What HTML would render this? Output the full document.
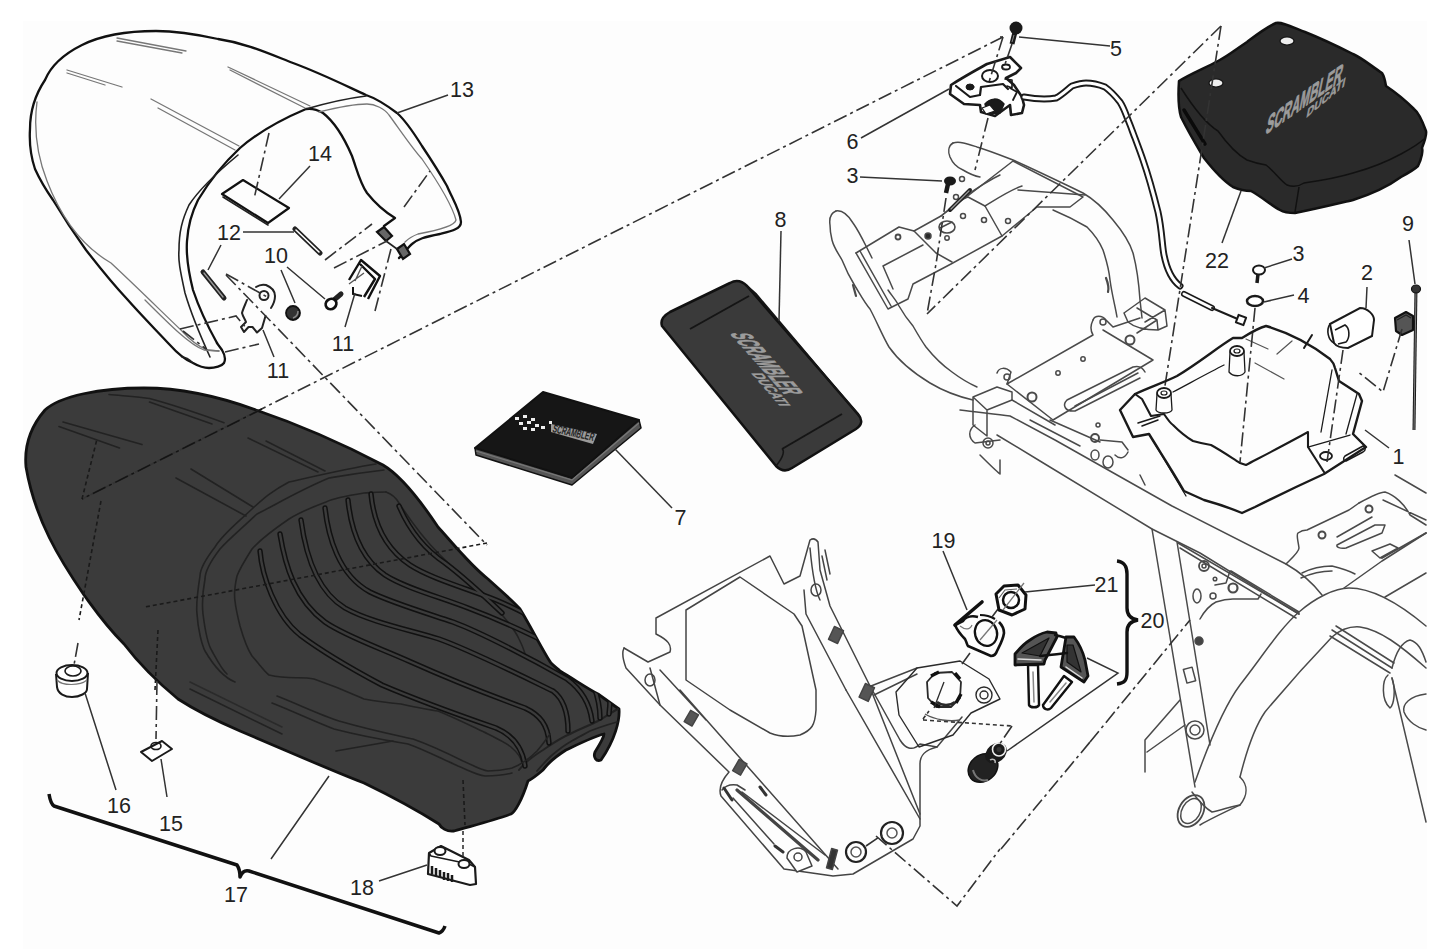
<!DOCTYPE html>
<html><head><meta charset="utf-8">
<style>
html,body{margin:0;padding:0;background:#fff;width:1452px;height:949px;overflow:hidden}
svg{display:block}
.k{fill:none;stroke:#111;stroke-width:2.3;stroke-linecap:round;stroke-linejoin:round}
.t{fill:none;stroke:#222;stroke-width:1.6;stroke-linecap:round;stroke-linejoin:round}
.g{fill:none;stroke:#777;stroke-width:1.3;stroke-linecap:round}
.dd{fill:none;stroke:#333;stroke-width:1.6;stroke-dasharray:14 4 3 4}
.dt{fill:none;stroke:#333;stroke-width:1.6;stroke-dasharray:4 3}
.ld{fill:none;stroke:#333;stroke-width:1.5}
text{font-family:"Liberation Sans",sans-serif;font-size:21.5px;fill:#222}
</style></head><body>
<svg width="1452" height="949" viewBox="0 0 1452 949">
<rect x="0" y="0" width="1452" height="949" fill="#fff"/>
<rect x="23" y="21" width="1404" height="928" fill="#fdfdfd"/>

<!-- ============ SEAT COVER 13 ============ -->
<g id="cover">
<path class="k" d="M399,258 C404,254 408,247 412,244 C418,239 424,237 440,234 C452,231 461,229 461,222 C460,210 452,198 447,186 C438,170 430,158 422,146 C412,130 405,120 397,113 C385,104 375,98 366,95 C340,83 320,73 293,63 C265,52 245,43 218,39 C195,34 178,31 156,31 C125,31 100,36 82,45 C60,56 50,68 45,80 C35,95 30,112 30,129 C29,145 31,157 35,169 C40,180 46,190 53,200 C62,215 73,232 86,250 C100,268 112,283 127,299 C142,316 156,330 169,344 C178,354 185,360 193,363 C200,367 205,368 209,368 C215,368 222,366 224,363 C226,359 225,355 222,350 C220,347 218,345 217,343"/>
<path class="g" d="M37,102 C34,125 35,150 47,181 C60,215 80,245 111,263 C140,290 165,315 182,331 C190,340 200,347 207,350 L219,351"/>
<path class="k" d="M217,343 C207,325 198,305 193,290 C188,270 186,255 187,241 C188,225 192,212 198,200 C210,180 225,162 240,148 C255,135 280,120 306,109 C313,108 318,110 323,113 C332,120 343,135 352,156 C357,170 360,183 367,193 C375,203 385,212 395,218 L384,226"/>
<path class="t" d="M210,357 C200,335 190,310 185,293 C180,270 178,260 179,250 C179,232 182,220 189,205 C200,188 220,170 238,155"/>
<path class="t" d="M306,109 C330,102 350,98 366,96"/>
<path class="g" d="M319,112 C335,108 355,104 367,104 C375,104 385,109 389,115 C400,130 412,148 422,159 C440,185 452,205 456,220 C455,225 440,230 418,234 C410,237 407,240 405,242"/>
<path class="g" d="M117,38 L186,51 M117,41 L182,53"/>
<path class="g" d="M67,70 L122,87 M67,73 L105,85"/>
<path class="g" d="M228,67 L310,106 M230,70 L305,108"/>
<path class="g" d="M151,99 L239,146 M158,108 L235,150"/>
<path class="t" d="M193,363 C190,360 185,357 182,357"/>
<path class="g" d="M145,300 C170,325 190,345 204,350 L219,351"/>
<!-- 14 label plate -->
<path class="k" style="stroke-width:2.2" d="M222,194 L243,180 L289,208 L268,223 Z"/>
<path class="t" d="M223,197 L268,225"/>
<path class="dd" d="M269,133 L254,199"/>
<path class="ld" d="M279,199 L310,166"/>
<path class="dd" d="M404,207 L430,171"/>
<!-- hinge blocks -->
<path d="M377,232 L384,227 L392,236 L386,241 Z" fill="#666" stroke="#111" stroke-width="2.2"/>
<path d="M397,249 L404,244 L410,254 L403,259 Z" fill="#666" stroke="#111" stroke-width="2.2"/>
<path class="t" d="M386,241 L397,249"/>
<!-- pins 12 -->
<path d="M295,229 L320,253" stroke="#222" stroke-width="5" stroke-linecap="round"/><path d="M296,230 L319,252" stroke="#fff" stroke-width="1.6" stroke-linecap="round"/>
<path d="M203,272 L224,298" stroke="#222" stroke-width="5" stroke-linecap="round"/><path d="M204,273 L223,297" stroke="#999" stroke-width="1.4" stroke-linecap="round"/>
<path class="ld" d="M243,232 L294,232 M221,245 L208,270"/>
<!-- 10 nut & screw -->
<circle cx="293" cy="313" r="7" fill="#333" stroke="#111" stroke-width="1.8"/><path d="M293,318 C296,317 298,314 298,311" stroke="#888" stroke-width="1.5" fill="none"/>
<path d="M334,300 L341,294" stroke="#222" stroke-width="5" stroke-linecap="round"/><ellipse cx="331" cy="304" rx="5.5" ry="5" fill="#fff" stroke="#111" stroke-width="2.8" transform="rotate(-40 331 304)"/>
<path class="ld" d="M281,270 L295,303 M287,267 L325,299"/>
<!-- bracket 11 left -->
<path class="t" style="stroke-width:2" d="M256,287 C259,285 262,284 266,285 C271,287 275,291 275,296 C275,301 273,305 271,308"/>
<circle cx="264" cy="295.5" r="4.5" class="t" style="stroke-width:2"/>
<path class="t" style="stroke-width:2" d="M247,300 C245,305 243,309 242,313 C243,317 245,319 246,322 L241,327 L244,332 L248.5,327 L252.5,327 L257,332.5 L262,328 L265.5,316"/>
<!-- bracket 11 right -->
<path fill="none" stroke="#111" stroke-width="2.4" stroke-linejoin="round" d="M349,280 L361,260 L380,276 L368,299 M360,264 L375,279 L364,297"/>
<path fill="none" stroke="#555" stroke-width="1.4" d="M349,284 L364,273 M362,266 L355,281"/>
<path fill="none" stroke="#111" stroke-width="2" d="M353,287 L353,294 L362,296"/>
<path class="ld" d="M345,327 L355,293 M274,357 L263,330"/>
<!-- dash lines near brackets -->
<path class="dd" d="M325,260 L372,224 M334,268 L387,241 M375,311 L392,245 M180,329 L236,316 L247,329 M183,331 L206,349 M225,352 L259,344 M226,274 L269,298"/>
</g>

<!-- labels -->

<!-- ============ SEAT 17 ============ -->
<defs><clipPath id="seatclip"><path d="M26,467 C24,445 32,425 45,410 C60,396 100,388 144,388 C180,388 215,395 256,410 C300,425 345,445 383,465 C400,475 420,500 438,527 C450,540 470,565 488,579 C500,590 512,600 520,609 C530,625 545,655 551,663 C555,667 558,669 560,671 C575,680 590,690 598,694 C605,699 612,704 619,709 C620,720 615,740 601,760 C596,762 593,757 595,752 C600,744 604,737 604,734 C595,736 585,741 566,750 C555,757 548,763 543,770 C536,776 532,779 528,781 C522,800 515,812 511,814 C495,820 475,825 454,831 C447,832 441,828 439,824 C420,812 395,798 364,783 C330,770 290,752 240,731 C210,718 195,710 178,699 C155,680 140,665 124,644 C105,625 95,610 84,595 C60,560 35,520 26,467 Z"/></clipPath></defs>
<g id="seat">
<path fill="#3b3b3b" stroke="#111" stroke-width="2.8" stroke-linejoin="round" d="M26,467 C24,445 32,425 45,410 C60,396 100,388 144,388 C180,388 215,395 256,410 C300,425 345,445 383,465 C400,475 420,500 438,527 C450,540 470,565 488,579 C500,590 512,600 520,609 C530,625 545,655 551,663 C555,667 558,669 560,671 C575,680 590,690 598,694 C605,699 612,704 619,709 C620,720 615,740 601,760 C596,762 593,757 595,752 C600,744 604,737 604,734 C595,736 585,741 566,750 C555,757 548,763 543,770 C536,776 532,779 528,781 C522,800 515,812 511,814 C495,820 475,825 454,831 C447,832 441,828 439,824 C420,812 395,798 364,783 C330,770 290,752 240,731 C210,718 195,710 178,699 C155,680 140,665 124,644 C105,625 95,610 84,595 C60,560 35,520 26,467 Z"/>
<!-- ridge -->
<path class="t" d="M376,464 C350,468 320,475 289,482 C270,492 262,500 252,509 C235,525 222,535 215,547 C205,560 200,570 200,576 C197,595 196,605 197,614 C198,630 202,645 205,651 C215,668 225,678 235,682"/>
<path class="t" d="M384,470 C350,474 330,478 329,478 C300,490 275,505 257,514 C240,530 228,540 220,549 C210,562 205,572 205,579 C202,595 202,605 203,614 C205,630 208,645 212,651 C218,662 222,670 227,674"/>
<!-- pleat panel border -->
<path class="t" d="M386,492 C375,492 365,493 364,493 C345,496 330,500 326,502 C310,508 300,512 289,519 C270,532 260,540 252,549 C245,560 240,568 237,576 C235,585 234,595 235,601 C236,610 238,618 240,626 C244,640 248,650 252,656 C260,665 265,672 269,675 C290,680 300,676 314,679 C340,688 355,695 364,699 C380,702 390,703 401,704 C420,708 430,710 438,711 C460,720 475,728 488,734 C500,740 510,745 512,748 C518,753 521,758 522,763"/>
<path class="t" d="M386,492 C392,494 396,498 399,503 C410,520 425,540 439,554 C460,575 480,592 496,608 C505,618 515,630 519,639 C522,645 524,650 525,654"/>
<path class="t" style="stroke-width:2" d="M519,770 C525,762 535,755 543,750 C552,744 560,738 570,734 C580,729 590,725 598,721 C605,717 612,712 618,709"/>
<path class="t" style="stroke-width:1.8" d="M537,771 C542,765 547,760 551,756 C558,750 563,746 570,742 C578,737 585,734 590,731 C600,727 610,724 617,722"/>
<!-- pleats (double lines) -->
<g fill="none" stroke-linecap="round" clip-path="url(#seatclip)">
<g stroke="#111" stroke-width="5.4">
<path id="pa" d="M260,551 C262,575 275,615 300,635 C320,650 350,668 382,685 C410,697 450,712 496,728 C510,734 522,745 525,766"/>
<path id="pb" d="M280,534 C285,565 295,600 325,622 C345,636 380,648 411,662 C440,675 495,697 525,708 C540,715 548,725 549,743"/>
<path id="pc" d="M301,520 C305,550 315,590 345,608 C370,622 410,630 439,639 C470,650 520,675 553,691 C565,700 568,715 568,731"/>
<path id="pd" d="M325,508 C328,535 338,575 370,592 C390,602 420,611 453,622 C480,632 530,658 567,679 C582,690 590,705 592,721"/>
<path id="pe" d="M348,500 C350,520 356,555 385,575 C405,588 440,597 468,608 C500,620 545,640 576,659 C592,672 600,700 600,718"/>
<path id="pf" d="M371,494 C373,515 380,545 410,565 C430,578 465,588 496,600 C525,612 565,635 596,656 C608,670 612,690 609,714"/>
<path id="pg" d="M399,506 C405,520 418,545 445,563 C465,578 480,592 502,613"/>
</g>
<g stroke="#3b3b3b" stroke-width="2.4">
<use href="#pa"/><use href="#pb"/><use href="#pc"/><use href="#pd"/><use href="#pe"/><use href="#pf"/><use href="#pg"/>
</g>
</g>
<!-- bottom border double -->
<path class="t" d="M277,696 C300,705 320,715 339,721 C370,730 395,735 413,739 C430,745 445,752 463,761 C475,766 480,770 488,771 C498,771 505,770 512,768 C520,765 530,758 537,751 C543,744 547,738 550,734"/>
<path class="t" d="M272,703 C295,712 315,722 334,729 C365,737 390,741 408,744 C425,750 440,758 458,766 C470,771 477,775 485,776 C495,776 505,775 512,773"/>
<!-- stitch lines -->
<path class="t" d="M109,394.5 C125,396 140,397 149.5,398.5 C170,404 200,414 224,422.7 M149.5,402 L212,424 M63,422 L142,444.5 M59,426.5 L119.5,448 M191,469 L253,507 M176,478 L246,516 M248,438 L318,472 M266,441 L325,471 M190,689 L282,734 M336,751 L393,741"/>
<path class="t" d="M190,682 L282,727" style="stroke:#2a2a2a"/>
<!-- dotted / dashed lines on seat -->
<path class="dt" d="M82,499 L97,439" style="stroke:#1a1a1a"/>
<path class="dt" d="M487,543 L145,607" style="stroke:#1a1a1a"/>
<path class="dt" d="M101,501 L79,620" style="stroke:#1a1a1a"/>
<path class="dt" d="M158,630 L155,690" style="stroke:#1a1a1a"/>
<path class="dt" d="M463,780 L465,825" style="stroke:#1a1a1a"/>
</g>
<!-- long dash-dot lines -->
<path class="dd" d="M1003,37 L82,499"/>
<path class="dd" style="stroke:#151515" d="M262,409 L82,499"/>
<path class="dd" d="M226,275 L487,545"/>

<!-- ============ MANUAL 7 ============ -->
<g id="manual">
<path d="M475,448 L476,455 L572,485 L641,428 L639,420 Z" fill="#555" stroke="#111" stroke-width="1.5" stroke-linejoin="round"/>
<path d="M475,448 L543,392 L639,420 L572,478 Z" fill="#161616" stroke="#111" stroke-width="2" stroke-linejoin="round"/>
<path d="M476,451 L572,480 L639,423" fill="none" stroke="#777" stroke-width="1.2"/>
<g fill="#eee">
<rect x="515" y="417" width="4" height="3"/><rect x="523" y="415" width="4" height="3"/><rect x="531" y="418" width="4" height="3"/>
<rect x="519" y="422" width="4" height="3"/><rect x="527" y="421" width="4" height="3"/><rect x="535" y="424" width="4" height="3"/>
<rect x="523" y="427" width="4" height="3"/><rect x="531" y="428" width="4" height="3"/><rect x="541" y="426" width="4" height="3"/>
<rect x="549" y="421" width="3" height="3"/>
</g>
<path d="M551,424 L597,434 L593,444 L551,432 Z" fill="#9a9a9a"/>
<text transform="matrix(0.977,0.213,-0.3,1,552,432)" style="font-size:11px;font-weight:bold;fill:#222" textLength="42" lengthAdjust="spacingAndGlyphs">SCRAMBLER</text>
<path class="ld" d="M615,449 L672,508"/>
</g>

<!-- ============ POUCH 8 ============ -->
<g id="pouch">
<path d="M662,326 C660,320 663,316 670,312 L730,283 C737,279 742,281 747,286 L858,414 C863,420 862,425 856,429 L792,468 C786,472 781,471 776,466 Z" fill="#3a3a3a" stroke="#111" stroke-width="2.5" stroke-linejoin="round"/>
<path d="M690,329 L749,296" stroke="#151515" stroke-width="2"/>
<path d="M747,286 L756,294 L860,417" stroke="#151515" stroke-width="2" fill="none"/>
<path d="M782,449 L842,414" stroke="#151515" stroke-width="2"/>
<path d="M776,466 C785,455 784,450 782,449" stroke="#151515" stroke-width="1.5" fill="none"/>
<text transform="matrix(0.668,0.745,-1,0,729.5,333)" style="font-size:29px;font-weight:bold;fill:#9c9c9c;stroke:#9c9c9c;stroke-width:1" textLength="82" lengthAdjust="spacingAndGlyphs">SCRAMBLER</text>
<text transform="matrix(0.66,0.75,-1,0,751,373)" style="font-size:16px;font-weight:bold;fill:#9c9c9c;stroke:#9c9c9c;stroke-width:0.6" textLength="44" lengthAdjust="spacingAndGlyphs">DUCATI</text>
<path class="ld" d="M781,231 L779,321"/>
</g>

<!-- ============ BAG 22 ============ -->
<g id="bag">
<path d="M1179,81 C1178,95 1179,110 1181,117 C1190,135 1198,148 1204,158 C1215,172 1225,182 1233,187 C1240,190 1245,191 1251,191 C1262,197 1272,206 1280,210 C1285,213 1290,213 1295,213 C1320,208 1340,203 1353,200 C1375,193 1390,185 1401,177 C1410,172 1415,169 1418,166 C1422,158 1423,150 1422,148 C1425,140 1427,135 1426,131 C1422,120 1418,112 1414,109 C1405,100 1395,92 1386,86 C1385,80 1384,76 1382,73 C1370,65 1362,58 1353,54 C1335,45 1320,38 1305,32 C1290,26 1282,22 1276,23 C1265,28 1255,36 1247,42 C1235,50 1228,56 1218,61 C1205,68 1190,74 1179,81 Z" fill="#2a2a2a" stroke="#111" stroke-width="2.5" stroke-linejoin="round"/>
<path d="M1181,88 C1195,110 1208,125 1218,131 C1228,145 1238,155 1247,160 C1255,163 1260,164 1266,165 C1275,172 1280,180 1287,185 C1292,187 1298,187 1304,183 C1325,180 1340,177 1353,173 C1375,167 1390,160 1401,154 C1412,148 1420,143 1424,139" fill="none" stroke="#111" stroke-width="1.5"/>
<path d="M1299,187 L1295,212" stroke="#111" stroke-width="1.5"/>
<ellipse cx="1287" cy="41" rx="7" ry="4" fill="#eee" stroke="#111" stroke-width="1.2"/>
<ellipse cx="1216" cy="83" rx="7" ry="4" fill="#eee" stroke="#111" stroke-width="1.2"/>
<path d="M1184,110 L1205,144" stroke="#0a0a0a" stroke-width="3.5" stroke-linecap="round"/>
<text transform="matrix(0.815,-0.579,-0.2,1,1265,135)" style="font-size:27px;font-weight:bold;fill:#9c9c9c;stroke:#9c9c9c;stroke-width:1" textLength="93" lengthAdjust="spacingAndGlyphs">SCRAMBLER</text>
<text transform="matrix(0.766,-0.643,-0.2,1,1306,118)" style="font-size:13px;font-weight:bold;fill:#9c9c9c;stroke:#9c9c9c;stroke-width:0.6" textLength="50" lengthAdjust="spacingAndGlyphs">DUCATI</text>
<path class="ld" d="M1241,191 L1222,243"/>
</g>

<!-- ============ FRAME ============ -->
<g id="frame" fill="none" stroke="#4a4a4a" stroke-width="1.5" stroke-linejoin="round" stroke-linecap="round">
<!-- left rail loop -->
<path d="M836,211 C831,213 829,218 830,225 C830,232 831,236 832,240 C834,248 838,253 842,260 C846,270 850,278 855,286 C860,294 864,302 870,309 C877,322 882,335 889,347 C898,360 912,372 930,383 C945,392 960,397 973,400"/>
<path d="M836,211 C842,210 848,215 853,223 C858,230 862,238 866,246 L872,258"/>
<path d="M888,290 C892,296 896,300 899,306 C903,313 907,319 913,326 C917,333 921,340 926,347 C934,357 942,365 952,372 C960,378 968,383 977,387"/>
<path d="M853,285 L856,296" stroke-width="2.2"/>
<!-- upper tube -->
<path d="M953,143 C948,146 948,152 950,157 C953,164 958,168 963,170 C968,173 974,176 980,177"/>
<path d="M953,143 C960,141 968,144 977,147 C990,151 1000,155 1013,160 C1040,172 1060,182 1083,193 C1095,200 1105,210 1113,220 C1123,232 1130,243 1133,253 C1137,268 1139,285 1140,300 L1142,318"/>
<path d="M1053,210 C1065,215 1075,220 1087,227 C1095,235 1100,243 1103,250 C1107,262 1109,270 1110,280 C1112,295 1115,305 1117,317"/>
<path d="M1106,278 C1108,283 1109,288 1108,292" stroke-width="2.2"/>
<!-- top plate -->
<path d="M860,251 L891,306 M856,253 L888,309 L908,299 L913,284 L951,264 L1002,236 L1037,207 L1070,207 L1083,197 L1013,161"/>
<path d="M856,253 L899,227 L914,231 L941,216 L969,195 L1013,161"/>
<path d="M883,266 L923,245 M883,266 L893,289 M914,231 L936,253 L952,262 M941,216 L960,200 L968,197 L985,206 L1002,236 M1018,190 L1085,195"/>
<path d="M960,200 C970,193 985,182 1000,175 M985,206 C995,200 1010,190 1022,186"/>
<circle cx="898" cy="237" r="2.5" stroke-width="1.8"/><circle cx="928" cy="236" r="3" fill="#2a2a2a"/><circle cx="947" cy="238" r="2.2"/><circle cx="984" cy="220" r="2.5" stroke-width="1.6"/><circle cx="1008" cy="221" r="2.5"/><circle cx="956" cy="197" r="2.5"/><circle cx="962" cy="179" r="2.5"/>
<ellipse cx="947" cy="227" rx="8" ry="6" stroke-width="1.6"/>
<path d="M940,228 L952,222" />
<path d="M950,210 L970,190" stroke-width="4" stroke="#222"/><path d="M951,209 L969,191" stroke-width="1.2" stroke="#999"/><circle cx="963" cy="216" r="2.5"/>
<!-- crossmember plates -->
<path d="M1093,320 C1095,315 1102,315 1106,320 L1113,327 L1140,318"/>
<path d="M997,373 C999,367 1006,367 1011,372 L1007,384 L1093,335 C1090,330 1090,326 1093,320"/>
<path d="M1007,384 L1053,420 L1153,360 L1103,330"/>
<circle cx="1103" cy="322" r="3"/><circle cx="1007" cy="377" r="3"/>
<circle cx="1130" cy="340" r="4.5" stroke-width="2"/><circle cx="1032" cy="397" r="4.5" stroke-width="2"/>
<circle cx="1083" cy="359" r="2.2"/><circle cx="1058" cy="373" r="2.2"/>
<path d="M1067,400 C1062,405 1065,412 1075,411 L1140,378 M1067,400 L1133,367 C1140,365 1143,368 1145,372 M1075,406 L1138,373"/>
<!-- block + main rail -->
<path d="M973,397 L997,387 L1012,392 L1012,400 L987,410 Z M973,397 L973,425 L987,436 M987,410 L987,436"/>
<path d="M1124,313 L1145,298 L1165,310 L1167,326 L1158,330 L1157,320 L1137,308 M1124,313 L1128,322 C1135,328 1148,330 1158,330 M1157,320 L1137,333 M1165,310 L1145,322"/>
<path d="M960,410 C975,412 995,414 1010,416 L1055,440 L1172,506 L1286,564 C1300,572 1312,582 1322,595"/>
<path d="M997,435 L1040,461 L1152,529 L1200,553 L1299,614"/>
<path d="M1012,400 L1055,425 M1030,420 L1080,446 M1050,420 L1100,442"/>
<path d="M980,455 C990,465 995,470 1000,474 L1000,460 M975,425 C968,430 968,438 975,443 L1000,440"/>
<circle cx="988" cy="443" r="5"/><circle cx="988" cy="443" r="2"/>
<circle cx="1095" cy="438" r="4" stroke-width="2"/><circle cx="1098" cy="425" r="2"/>
<ellipse cx="1095" cy="455" rx="4" ry="5"/><ellipse cx="1108" cy="462" rx="5" ry="6"/>
<path d="M1100,440 L1122,442 L1128,450 M1140,475 L1145,485 M1115,455 C1120,460 1125,458 1128,452"/>
<!-- vertical strut -->
<path d="M1152,529 L1195,787 M1177,542 L1210,745"/>
<path d="M1178,543 L1299,614 M1180,548 L1296,618 M1231,571 L1299,612"/>
<path d="M1200,619 C1205,610 1210,605 1216,602 C1222,600 1228,599 1233,599 L1258,599 L1261,594"/>
<path d="M1230,571 L1226,583 L1215,585"/>
<circle cx="1204" cy="566" r="5" stroke-width="1.8"/><circle cx="1204" cy="566" r="2"/>
<circle cx="1233" cy="588" r="4.5" stroke-width="2.2"/><circle cx="1213" cy="596" r="3"/><circle cx="1215" cy="579" r="1.8"/>
<ellipse cx="1197" cy="596" rx="4" ry="7"/>
<circle cx="1199" cy="641" r="4" fill="#444"/>
<path d="M1180,700 L1145,740 L1145,772 M1147,752 L1185,725"/>
<circle cx="1195" cy="730" r="9"/><circle cx="1195" cy="730" r="5"/>
<rect x="1185" y="668" width="9" height="14" transform="rotate(-15 1190 675)"/>
<!-- big arch + pivot -->
<path d="M1195,782 C1210,740 1225,705 1240,685 C1260,660 1280,628 1299,612 C1315,598 1335,588 1349,588 C1370,588 1395,600 1426,626"/>
<path d="M1240,777 C1248,745 1256,725 1265,712 C1285,688 1310,660 1332,637 C1340,630 1348,626 1360,627 C1380,630 1400,645 1426,668"/>
<path d="M1240,777 C1248,785 1248,795 1240,805 C1225,812 1212,818 1200,825"/>
<ellipse cx="1191" cy="811" rx="12" ry="17" transform="rotate(30 1191 811)" stroke-width="1.8"/>
<ellipse cx="1191" cy="811" rx="9" ry="13.5" transform="rotate(30 1191 811)"/>
<path d="M1192,792 C1198,800 1205,808 1212,812 C1222,810 1232,806 1240,805"/>





<path d="M1332,630 L1392,668 M1336,626 L1394,663 M1330,636 L1390,673"/>
<path d="M1392,668 C1396,652 1402,642 1410,640 C1418,642 1422,650 1426,662"/>
<path d="M1392,678 L1426,822"/>
<path d="M1388,675 C1382,680 1381,700 1390,708 C1394,705 1396,690 1392,678"/>
<path d="M1426,694 C1410,696 1402,704 1404,712 C1408,722 1418,728 1426,730"/>
<!-- right floor plate -->
<path d="M1286,564 C1292,558 1299,552 1299,548 C1298,540 1296,535 1298,533 C1302,530 1306,530 1307,530 L1349,510 L1359,503"/>
<path d="M1344,588 L1382,561 L1426,533 M1385,597 L1426,573"/>
<path d="M1337,537 L1372,517 M1337,545 L1375,525 L1385,525 L1382,533 L1346,548 C1340,549 1336,547 1337,545"/>
<circle cx="1322" cy="535" r="3.5" stroke-width="2"/><circle cx="1369" cy="509" r="3.5" stroke-width="2"/>
<path d="M1372,551 L1390,544 L1398,548 L1380,558 Z"/>
<path d="M1382,558 L1426,533" stroke-width="2"/>
<path d="M1302,573 C1312,568 1322,566 1332,566 C1340,568 1348,570 1355,574 M1301,578 C1312,573 1322,571 1332,571"/>
<path d="M1395,475 L1426,493 M1383,500 L1426,520 M1359,503 C1370,497 1380,492 1385,492 C1395,495 1405,505 1410,515 L1426,525"/>
</g>
<!-- ============ LOCK 6 / CABLE / SCREWS ============ -->
<g id="lock" fill="none" stroke="#1a1a1a" stroke-linejoin="round" stroke-linecap="round">
<path d="M951,85 C965,76 978,69 987,64 L1010,57 L1021,68 L1016,73 L1006,78 L1014,85 L1022,97 L1024,105 L1022,113 L1011,115 L1010,105 L995,116 L981,112 L980,105 L964,104 L950,94 Z" stroke-width="2.6" fill="#fff"/>
<path d="M956,86 L970,97 L980,95 L981,87 L1003,84 L1008,89" stroke-width="2.2"/>
<ellipse cx="990" cy="76" rx="8" ry="6" stroke-width="2"/>
<ellipse cx="1006" cy="67" rx="4" ry="2.5" stroke-width="1.8"/>
<ellipse cx="970" cy="87" rx="4" ry="3" fill="#1a1a1a"/>
<path d="M985,104 C990,98 998,97 1004,104 L1000,113 L988,114 Z" fill="#1a1a1a" stroke-width="1.5"/>
<path d="M982,108 L990,105 L995,111 L986,114 Z" fill="#fff" stroke-width="1.3"/>
<path d="M1005,79 L1012,80 L1012,88 L1007,86" stroke-width="1.6"/>
<path d="M1010,88 L1017,92 L1013,100" stroke-width="1.8"/>
<path d="M1024,97 C1035,99 1045,100 1056,98 C1062,95 1068,89 1072,86 C1078,84 1082,83 1086,83 C1095,83 1100,85 1105,87 C1112,92 1116,97 1120,102 C1124,108 1126,115 1128.5,121 C1131,127 1133,133 1135,138 C1138,146 1141,154 1143,160 C1150,180 1155,200 1158,212 C1162,230 1162,245 1164,255 C1167,270 1172,280 1180,286" stroke-width="7" stroke="#1a1a1a"/>
<path d="M1024,97 C1035,99 1045,100 1056,98 C1062,95 1068,89 1072,86 C1078,84 1082,83 1086,83 C1095,83 1100,85 1105,87 C1112,92 1116,97 1120,102 C1124,108 1126,115 1128.5,121 C1131,127 1133,133 1135,138 C1138,146 1141,154 1143,160 C1150,180 1155,200 1158,212 C1162,230 1162,245 1164,255 C1167,270 1172,280 1180,286" stroke-width="3.2" stroke="#fff"/>
<path d="M1184,294 L1212,308" stroke-width="6"/><path d="M1184,294 L1212,308" stroke-width="3" stroke="#fff"/>
<path d="M1212,308 L1240,320" stroke-width="2"/>
<rect x="1237" y="316" width="8" height="8" stroke-width="2" transform="rotate(20 1241 320)" fill="#fff"/>
</g>
<!-- screw 5 -->
<circle cx="1016" cy="28" r="6.5" fill="#1a1a1a"/>
<path d="M1015,32 L1012,44" stroke="#1a1a1a" stroke-width="5"/>
<path d="M1014,35 L1012,42" stroke="#888" stroke-width="1"/>
<path class="ld" d="M1019,37 L1110,46"/>
<path class="ld" d="M949,89 L861,138"/>
<!-- screw 3 left -->
<ellipse cx="950" cy="181" rx="6" ry="4.5" fill="#1a1a1a"/>
<path d="M948,184 L946,193" stroke="#1a1a1a" stroke-width="4.5"/>
<path class="ld" d="M860,177 L942,181"/>
<!-- dash-dot lines top -->
<path class="dd" d="M1003,37 L989,82 M988,118 L975,170 M1012,44 L1003,70"/>
<path class="dd" d="M946,198 L936,264 L927,314"/>
<path class="dd" d="M1221,26 L927,314"/>
<path class="dd" d="M1221,26 L1164,392"/>
<path class="dd" d="M1003,37 L1000,37"/>

<!-- ============ BATTERY TRAY 1 etc ============ -->
<g id="tray" fill="none" stroke="#1a1a1a" stroke-linejoin="round" stroke-linecap="round">
<path d="M1135,394 C1150,387 1165,382 1177,376 C1200,362 1218,347 1233,338 L1242,338 C1250,333 1258,328 1266,326 C1290,333 1312,345 1330,359 C1333,362 1334,364 1335,368 L1339,381 L1359,394 L1362,401 L1353,434 L1366,447 L1324,474 C1300,485 1275,497 1255,507 L1242,513 C1230,508 1215,503 1204,500 L1184,491 C1172,470 1160,452 1149,434 L1133,437 L1120,410 Z" stroke-width="2.4"/>
<path d="M1135,394 L1142,399 L1151,416 L1164,414 C1168,420 1170,423 1173,425 C1180,432 1186,437 1193,441 C1200,443 1205,444 1211,445 C1222,451 1232,458 1240,463 L1246,465 C1265,455 1290,442 1308,432 L1308,447 L1324,472" stroke-width="2.1"/>
<path d="M1138,423 L1160,416 M1142,426 L1158,420" stroke-width="1.5"/>
<path d="M1173,392 C1190,383 1210,372 1224,365" stroke-width="1.3"/>
<path d="M1332,370 L1321,432 M1357,394 L1346,434 M1308,447 L1350,435" stroke-width="1.3"/>
<path d="M1149,434 L1186,496" stroke-width="1.3"/>
<ellipse cx="1164" cy="393" rx="7" ry="5" stroke-width="1.8" fill="#fff"/><ellipse cx="1164" cy="393" rx="3" ry="2" stroke-width="1.2"/>
<path d="M1157,394 L1156,410 C1158,414 1170,414 1172,410 L1171,394" stroke-width="1.3"/>
<ellipse cx="1237" cy="351" rx="7" ry="5" stroke-width="1.8" fill="#fff"/><ellipse cx="1237" cy="351" rx="3" ry="2" stroke-width="1.2"/>
<path d="M1230,352 L1229,372 C1233,377 1242,377 1245,372 L1244,352" stroke-width="1.3"/>
<ellipse cx="1326" cy="456" rx="6" ry="4" stroke-width="1.8"/>
<path d="M1345,456 L1363,446 C1366,447 1366,450 1363,452 L1346,461 C1343,461 1343,458 1345,456" stroke-width="1.5"/>
<path d="M1255,363 L1284,379 M1246,339 L1268,349 M1277,354 L1292,341" stroke-width="1.2" stroke="#555"/>
<path d="M1304,348 L1312,335" stroke-width="2"/>
</g>
<!-- screw 3 right, washer 4 -->
<ellipse cx="1259" cy="270" rx="6" ry="4.5" fill="#fff" stroke="#1a1a1a" stroke-width="2"/>
<path d="M1258,274 L1257,283" stroke="#1a1a1a" stroke-width="3.5"/>
<ellipse cx="1255" cy="301" rx="8" ry="5" fill="#fff" stroke="#1a1a1a" stroke-width="2.5"/>
<path class="ld" d="M1264,268 L1292,259 M1264,302 L1294,295 M1389,448 L1365,430 M1367,287 L1366,308 M1409,240 L1415,284"/>
<!-- part 2 -->
<path d="M1330,324 L1360,308 C1368,308 1374,315 1374,320 L1372,336 L1348,348 C1342,348 1336,346 1334,343 Z" fill="#fff" stroke="#1a1a1a" stroke-width="2"/>
<path d="M1330,324 C1326,330 1328,340 1334,343 M1335,330 L1345,325 C1350,328 1350,338 1346,342 L1338,344" fill="none" stroke="#1a1a1a" stroke-width="1.6"/>
<!-- part 9 -->
<path d="M1416,287 L1414,430" stroke="#1a1a1a" stroke-width="3"/>
<path d="M1416,287 L1414,430" stroke="#999" stroke-width="0.8"/>
<ellipse cx="1416" cy="289" rx="4.5" ry="4" fill="#333" stroke="#111" stroke-width="1.2"/>
<path d="M1395,318 L1406,312 L1413,316 L1413,330 L1402,335 L1396,331 Z" fill="#555" stroke="#111" stroke-width="2.2" stroke-linejoin="round"/><path d="M1397,320 L1406,315 L1411,318" fill="none" stroke="#222" stroke-width="1.2"/>
<path class="dd" d="M1402,329 L1383,392 L1357,371 M1343,350 L1327,462 M1255,308 L1240,462"/>


<!-- ============ SIDE BRACKET ============ -->
<g id="bracket" fill="none" stroke="#444" stroke-width="1.5" stroke-linejoin="round" stroke-linecap="round">
<path d="M624,648 L648,662 L670,652 C672,645 668,640 656,634 L656,618 L770,556 L784,584 L800,576 L810,540 C813,538 816,539 818,542 L820,570 L830,606 L870,686 L900,740 C905,748 912,752 920,744 L937,747 L962,717"/>
<path d="M624,648 C622,652 623,660 626,668 L660,705 L729,772 C722,780 718,788 721,796 L784,869 L833,876 L853,874 L913,839 L920,826 L920,764 C920,755 925,750 937,747"/>
<path d="M686,610 L740,577 L794,614 L802,626 L816,690 L816,710 C815,725 812,730 800,735 C790,737 780,737 770,733 L730,710 L686,680 Z"/>
<path d="M804,590 L806,614 L846,690 M810,548 C812,570 815,590 820,600 M680,690 L838,869 M660,670 L706,720 M650,668 L660,705"/>
<path d="M822,556 L827,580 M825,550 L830,574"/>
<path d="M846,690 L920,819 M871,690 L920,814"/>
<ellipse cx="650" cy="680" rx="5" ry="6"/><ellipse cx="816" cy="590" rx="5" ry="6"/>
<path d="M737,790 L818,860" stroke-width="3.2"/><path d="M742,792 L825,855 M733,798 L774,844 M722,790 C725,786 730,784 737,785 L745,790" stroke-width="1.5"/><path d="M724,788 L732,800 M760,787 L766,795 M775,846 L783,852" stroke-width="3" stroke="#333"/>
<rect x="687" y="712" width="9" height="13" fill="#555" transform="rotate(30 692 718)"/>
<rect x="735" y="761" width="9" height="13" fill="#555" transform="rotate(30 740 768)"/>
<rect x="831" y="628" width="10" height="14" fill="#555" transform="rotate(25 836 635)"/>
<rect x="862" y="685" width="10" height="15" fill="#555" transform="rotate(25 867 692)"/>
<rect x="829" y="849" width="6" height="20" fill="#333" transform="rotate(15 832 859)"/>
<path d="M787,858 C787,848 800,845 806,852 L812,866 L797,872 Z" fill="#fff"/><circle cx="798" cy="857" r="4"/>
<path d="M871,686 L917,668 M874,695 L917,674"/>

</g>
<!-- washers -->
<circle cx="856" cy="852" r="10" fill="#fff" stroke="#222" stroke-width="2.2"/><circle cx="856" cy="852" r="5" fill="none" stroke="#555" stroke-width="1.5"/>
<circle cx="892" cy="833" r="11" fill="#fff" stroke="#222" stroke-width="2.2"/><circle cx="892" cy="833" r="5" fill="none" stroke="#555" stroke-width="1.5"/>
<path class="dd" d="M876,836 L957,906 L1000,849 M866,846 L882,835"/>

<!-- lock holder plate -->
<g fill="none" stroke="#2a2a2a" stroke-width="1.4" stroke-linejoin="round">
<path d="M896,692 L917,668 L960,661 L989,679 L1000,699 L971,713 L953,735 L919,747 L899,715 Z"/>
<circle cx="984" cy="695" r="8"/><circle cx="984" cy="695" r="4"/>
<path d="M935,673 L952,672 L961,682 L960,698 L951,707 L936,707 L928,698 L927,682 Z" stroke-width="1.8"/>
<path d="M931,676 L939,672 M955,673 L960,679 M961,694 L956,703 M940,707 L931,702" stroke="#111" stroke-width="3.5"/>
<path d="M937,702 C942,706 950,706 955,702" stroke-width="2.5"/>
<path d="M934,708 L944,682" stroke-width="1.3"/>
<path class="dt" d="M923,719 L929,711 M923,720 L1012,726"/>
<path d="M925,714 C935,720 950,722 960,720" stroke="#555"/>
</g>
<!-- ring 19 -->
<path d="M978,617 C970,615 965,618 963,621 L955,625 C958,632 962,636 965,639 C967,643 967,645 968,646 L991,656 C994,656 996,654 997,651 C1000,645 1003,640 1004,633 C1004,628 1002,625 999,622" fill="none" stroke="#111" stroke-width="2.6" stroke-linejoin="round"/>
<path d="M980,615 C985,615 990,616 995,619" fill="none" stroke="#111" stroke-width="2.2"/>
<ellipse cx="986" cy="633" rx="11" ry="13" transform="rotate(-15 986 633)" fill="none" stroke="#111" stroke-width="2.3"/>
<path d="M955,625 L982,602" stroke="#111" stroke-width="3.6" stroke-linecap="round"/>
<path d="M960,626 C965,630 970,630 972,625" fill="none" stroke="#777" stroke-width="1.2"/>
<path class="ld" d="M943,551 L967,610"/>
<path d="M980,640 L997,620" stroke="#777" stroke-width="1.3"/>
<path class="dd" d="M970,653 L962,664 M992,617 L998,609"/>
<!-- nut 21 -->
<path d="M996,594 L1004,586 L1018,585 L1026,595 L1025,609 L1012,615 L999,610 Z" fill="#fff" stroke="#111" stroke-width="3" stroke-linejoin="round"/>
<path d="M999,598 L1005,590 L1017,589" fill="none" stroke="#666" stroke-width="1.2"/>
<ellipse cx="1011" cy="600" rx="8" ry="8" fill="none" stroke="#111" stroke-width="2.5"/>
<path class="ld" d="M1025,592 L1095,585"/>
<path d="M1003,610 L1024,583" stroke="#777" stroke-width="1.3"/>
<!-- brace 20 -->
<path d="M1117,561 C1125,562 1127,567 1127,574 L1127,608 C1127,615 1131,619 1138,620 C1131,621 1127,625 1127,632 L1127,672 C1127,680 1125,683 1117,684" fill="none" stroke="#111" stroke-width="3.4"/>
<!-- keys -->
<g stroke="#111" stroke-linejoin="round" stroke-linecap="round">
<path d="M1028,665 L1038,665 L1039,705 C1038,708 1030,708 1029,705 Z" fill="#fff" stroke-width="2.4"/>
<path d="M1033,672 L1034,702" fill="none" stroke="#888" stroke-width="1.5"/>
<path d="M1015,654 C1020,648 1025,643 1030,640 C1037,635 1042,633 1047,632 L1056,633 L1057,637 L1045,660 L1044,664 L1015,665 Z" fill="#555" stroke-width="2.8"/>
<path d="M1022,653 L1049,638 L1040,656 Z" fill="#333" stroke-width="1.2"/>
<path d="M1018,659 L1041,660" stroke="#ddd" stroke-width="1.6"/>
<path d="M1064,676 L1072,682 L1051,708 C1048,711 1043,709 1043,705 Z" fill="#fff" stroke-width="2.4"/>
<path d="M1066,683 L1050,702" fill="none" stroke="#888" stroke-width="1.5"/>
<path d="M1061,667 L1066,637 L1074,637 C1080,645 1083,652 1085,660 L1088,676 L1084,682 Z" fill="#555" stroke-width="2.8"/>
<path d="M1067,645 L1073,645 L1081,672 L1067,662 Z" fill="#333" stroke-width="1.2"/>
<path d="M1066,667 L1082,678" stroke="#ddd" stroke-width="1.5"/>
<path d="M1055,635 C1060,636 1063,637 1066,638 M1040,656 C1050,655 1060,654 1067,653" fill="none" stroke-width="2.4"/>
</g>
<path class="ld" d="M1087,658 L1118,673 L1007,751"/>
<!-- lock cylinder -->
<ellipse cx="983" cy="768" rx="16" ry="13" transform="rotate(-40 983 768)" fill="#222" stroke="#111" stroke-width="1.5"/>
<ellipse cx="996" cy="753" rx="12" ry="9" transform="rotate(-40 996 753)" fill="#1a1a1a"/>
<path d="M973,770 C975,778 982,782 988,780" stroke="#777" stroke-width="2" fill="none"/>
<circle cx="999" cy="749.5" r="6.5" fill="#1a1a1a" stroke="#eee" stroke-width="1.6"/>
<circle cx="999" cy="749.5" r="2.5" fill="#333"/>
<path d="M990,760 C993,758 996,760 995,763" stroke="#bbb" stroke-width="1.5" fill="none"/>
<path class="dd" d="M1012,726 L999,745"/>
<path class="dd" d="M1090,742 L1190,620"/>
<path class="dd" d="M1001,849 L1090,742"/>
<!-- ============ 16 / 15 / 18 / 17 ============ -->
<g fill="none" stroke="#1a1a1a" stroke-linejoin="round">
<path d="M56,674 L57,687 C58,694 65,697 72,697 C80,697 87,693 87,689 L88,673" fill="#fff" stroke-width="2"/>
<ellipse cx="72" cy="673" rx="15.5" ry="8" fill="#fff" stroke-width="2"/>
<ellipse cx="73" cy="671" rx="8" ry="5" stroke-width="1.6"/>
<path d="M57,680 C62,686 80,686 87,680" stroke="#777" stroke-width="1.2"/>
<path d="M141,752 L162,741 L172,749 L152,761 Z" fill="#fff" stroke-width="2"/>
<ellipse cx="156" cy="746" rx="5" ry="3.5" stroke-width="1.6"/>
<path d="M429,853 L441,846 L469,860 L475,867 L476,884 L470,885 L428,874 Z" fill="#fff" stroke-width="2.2"/>
<path d="M429,853 L431,856 L469,864 L475,867" stroke-width="1.5"/>
<ellipse cx="440" cy="851" rx="5.5" ry="4" fill="#fff" stroke-width="2"/>
<ellipse cx="464" cy="864" rx="5.5" ry="4" fill="#fff" stroke-width="2"/>
<path d="M432,866 L432,874 M436,868 L436,876 M440,870 L440,878 M444,872 L444,880 M448,873 L448,881 M452,875 L452,882" stroke-width="2.5"/>
</g>
<path class="dd" d="M78,643 L74,665 M157,681 L156,739"/>
<path class="dt" d="M463,831 L463,858"/>
<path class="ld" d="M85,693 L116,790 M161,759 L167,797 M271,859 L329,776 M379,881 L427,865"/>
<path d="M49,794 C50,800 51,804 54,806 L237,865 C239,868 240,872 240,877 C242,872 245,870 249,871 L439,933 C442,932 444,929 445,926" fill="none" stroke="#111" stroke-width="3.5" stroke-linejoin="round"/>
<path class="ld" d="M397,113 L448,95"/>
<g id="labels" text-anchor="middle">
<text x="462" y="96.8">13</text>
<text x="320" y="160.8">14</text>
<text x="229" y="239.8">12</text>
<text x="276" y="263.3">10</text>
<text x="343" y="350.8">11</text>
<text x="278" y="378.3">11</text>
<text x="1116" y="55.8">5</text>
<text x="852.5" y="148.8">6</text>
<text x="852.5" y="182.8">3</text>
<text x="1298.5" y="260.8">3</text>
<text x="780.5" y="226.8">8</text>
<text x="1217" y="267.8">22</text>
<text x="1303.5" y="302.8">4</text>
<text x="1367" y="280.3">2</text>
<text x="1408" y="231.3">9</text>
<text x="1398.5" y="463.8">1</text>
<text x="680.5" y="524.8">7</text>
<text x="943.5" y="547.8">19</text>
<text x="1106.5" y="592.3">21</text>
<text x="1152.5" y="627.8">20</text>
<text x="119" y="813.3">16</text>
<text x="171" y="831.3">15</text>
<text x="236" y="902.3">17</text>
<text x="362" y="894.8">18</text>
</g>
</svg>
</body></html>
